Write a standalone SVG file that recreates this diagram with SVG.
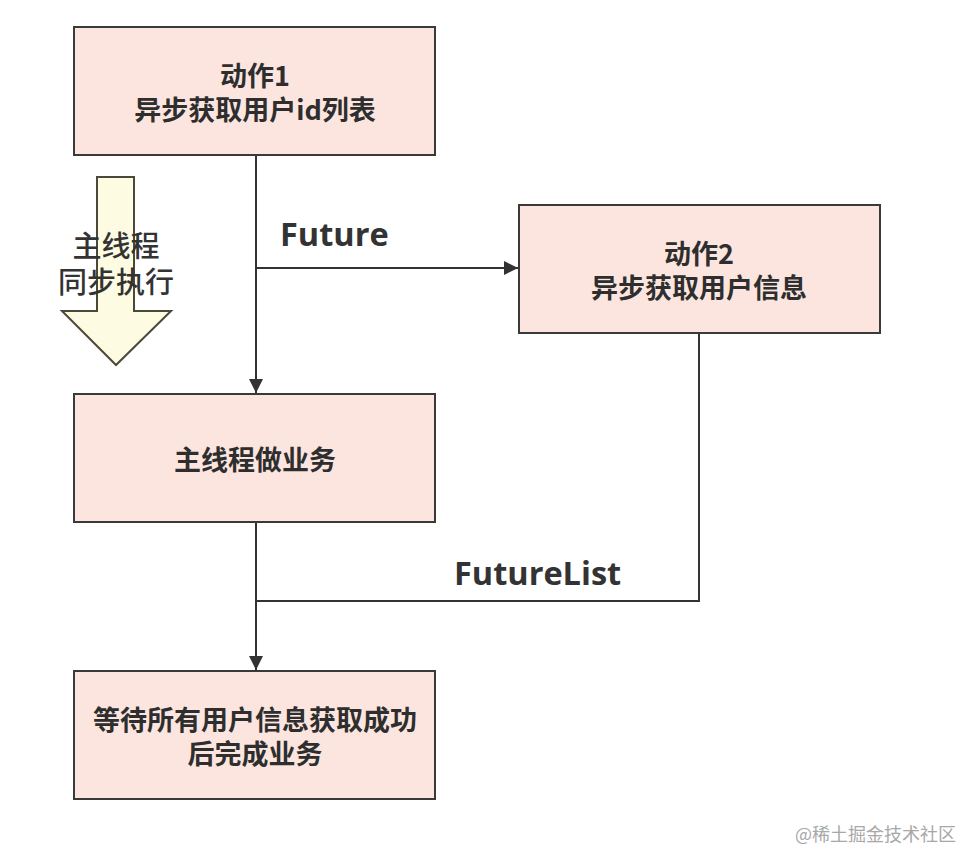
<svg xmlns="http://www.w3.org/2000/svg" width="978" height="868" viewBox="0 0 978 868">
<style>
.box{fill:#fce5df;stroke:#3a3a3a;stroke-width:2}
.t{font-family:"Noto Sans CJK SC","Liberation Sans",sans-serif;font-weight:bold;font-size:27px;fill:#2e2e2e;text-anchor:middle}
.lbl{font-family:"Open Sans","Noto Sans CJK SC",sans-serif;font-weight:bold;font-size:32.5px;fill:#333}
.ln{fill:none;stroke:#333;stroke-width:2}
.side{font-family:"Noto Sans CJK SC",sans-serif;font-weight:500;font-size:29px;fill:#333;text-anchor:middle}
</style>
<defs>
<marker id="ah" viewBox="0 0 10 10" refX="10" refY="5" markerWidth="14" markerHeight="14" markerUnits="userSpaceOnUse" orient="auto">
<path d="M0,0 L10,5 L0,10 Z" fill="#333"/>
</marker>
</defs>
<rect width="978" height="868" fill="#fff"/>
<g id="main-arrow">
<polygon points="97,177 134,177 134,311 171,311 116,365 62,311 97,311" fill="#fdfbe1" stroke="#4a4a3a" stroke-width="2"/>
<text class="side" x="116" y="257">主线程</text>
<text class="side" x="116" y="293">同步执行</text>
</g>
<g id="connectors">
<path class="ln" d="M256,155 V393" marker-end="url(#ah)"/>
<path class="ln" d="M256,268 H518" marker-end="url(#ah)"/>
<path class="ln" d="M256,522 V670" marker-end="url(#ah)"/>
<path class="ln" d="M699,333 V601 H256"/>
<text class="lbl" x="280" y="246">Future</text>
<text class="lbl" x="454" y="585">FutureList</text>
</g>
<g id="action1">
<rect class="box" x="74" y="27" width="361" height="128"/>
<text class="t" x="255" y="86">动作1</text>
<text class="t" x="255" y="120">异步获取用户id列表</text>
</g>
<g id="action2">
<rect class="box" x="519" y="205" width="361" height="128"/>
<text class="t" x="699" y="264">动作2</text>
<text class="t" x="699" y="298">异步获取用户信息</text>
</g>
<g id="main-work">
<rect class="box" x="74" y="394" width="361" height="128"/>
<text class="t" x="255" y="470">主线程做业务</text>
</g>
<g id="wait">
<rect class="box" x="74" y="671" width="361" height="128"/>
<text class="t" x="255" y="730">等待所有用户信息获取成功</text>
<text class="t" x="255" y="764">后完成业务</text>
</g>
<text x="795" y="841" font-family="Noto Sans CJK SC,sans-serif" font-size="18" fill="#a8a8a8">@稀土掘金技术社区</text>
</svg>
